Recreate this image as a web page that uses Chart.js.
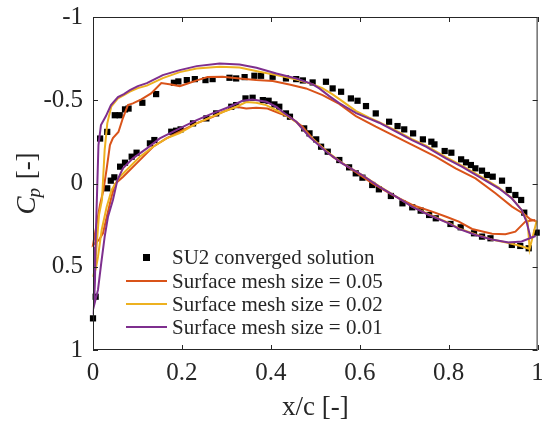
<!DOCTYPE html>
<html>
<head>
<meta charset="utf-8">
<script src="https://cdn.jsdelivr.net/npm/chart.js@4.4.0/dist/chart.umd.min.js"></script>
<style>
  html, body { margin: 0; padding: 0; background: #fff; }
  #wrap { width: 542px; height: 426px; }
</style>
</head>
<body>
<div id="wrap"><canvas id="cpChart"></canvas></div>
<script>
// Solution SU2 convergée (extrados puis intrados)
const su2X = [
  0.000, 0.006, 0.016, 0.032, 0.049, 0.060, 0.072, 0.080, 0.111, 0.142, 0.182, 0.192, 0.211, 0.229,
  0.253, 0.269, 0.307, 0.322, 0.341, 0.363, 0.378, 0.404, 0.434, 0.457, 0.472, 0.494, 0.524, 0.539,
  0.558, 0.580, 0.595, 0.614, 0.636, 0.666, 0.685, 0.700, 0.720, 0.742, 0.761, 0.768, 0.791, 0.806,
  0.828, 0.839, 0.850, 0.860, 0.875, 0.886, 0.899, 0.920, 0.935, 0.950, 0.963, 0.970, 0.998,
  0.032, 0.040, 0.048, 0.061, 0.072, 0.087, 0.098, 0.128, 0.138, 0.176, 0.187, 0.197, 0.225, 0.255,
  0.277, 0.311, 0.322, 0.343, 0.359, 0.382, 0.395, 0.408, 0.419, 0.434, 0.443, 0.475, 0.487, 0.502,
  0.513, 0.528, 0.554, 0.576, 0.591, 0.606, 0.628, 0.643, 0.670, 0.696, 0.718, 0.737, 0.756, 0.771,
  0.804, 0.827, 0.857, 0.875, 0.894, 0.942, 0.961, 0.980
];
const su2Cp = [
  0.810, 0.680, -0.270, -0.310, -0.410, -0.410, -0.445, -0.450, -0.485, -0.537, -0.605, -0.613, -0.621, -0.627,
  -0.621, -0.627, -0.635, -0.631, -0.639, -0.647, -0.647, -0.641, -0.631, -0.627, -0.619, -0.607, -0.611, -0.571,
  -0.551, -0.511, -0.497, -0.465, -0.421, -0.371, -0.345, -0.325, -0.301, -0.265, -0.251, -0.235, -0.195, -0.185,
  -0.145, -0.127, -0.111, -0.091, -0.077, -0.051, -0.041, -0.017, 0.039, 0.069, 0.099, 0.175, 0.295,
  0.029, -0.017, -0.037, -0.101, -0.125, -0.161, -0.185, -0.241, -0.261, -0.311, -0.317, -0.325, -0.361, -0.391,
  -0.421, -0.461, -0.471, -0.511, -0.515, -0.501, -0.497, -0.475, -0.461, -0.421, -0.401, -0.331, -0.301, -0.265,
  -0.221, -0.191, -0.141, -0.097, -0.061, -0.035, 0.009, 0.035, 0.075, 0.119, 0.143, 0.163, 0.189, 0.209,
  0.243, 0.263, 0.299, 0.319, 0.329, 0.369, 0.375, 0.389
];

// Maillage 0.05 : extrados (bord d'attaque -> bord de fuite) et intrados
const m05HautX = [0.000, 0.0067, 0.0157, 0.0235, 0.0303, 0.0381, 0.0448, 0.0572, 0.0673, 0.0785, 0.0897, 0.1087,
  0.1307, 0.1536, 0.1756, 0.1951, 0.2130, 0.2354, 0.2578, 0.2915, 0.3296, 0.3670, 0.4043, 0.4417, 0.4791, 0.5164,
  0.5538, 0.5913, 0.6361, 0.6809, 0.7258, 0.7706, 0.8155, 0.8603, 0.9052, 0.9424, 0.9724, 0.9836, 0.9984];
const m05HautCp = [0.369, 0.267, 0.129, 0.039, -0.081, -0.231, -0.273, -0.309, -0.393, -0.471, -0.481, -0.505,
  -0.541, -0.603, -0.595, -0.585, -0.601, -0.621, -0.639, -0.641, -0.631, -0.621, -0.615, -0.595, -0.571, -0.531,
  -0.478, -0.405, -0.341, -0.281, -0.221, -0.161, -0.091, -0.031, 0.059, 0.139, 0.189, 0.215, 0.229];
const m05BasX = [0.000, 0.0135, 0.0224, 0.0303, 0.0415, 0.0493, 0.0679, 0.0980, 0.1352, 0.1652, 0.1951, 0.2325,
  0.2697, 0.2922, 0.3222, 0.3446, 0.3670, 0.3924, 0.4193, 0.4417, 0.4715, 0.4940, 0.5388, 0.5836, 0.6285, 0.6733,
  0.7181, 0.7630, 0.7960, 0.8229, 0.8527, 0.8975, 0.9276, 0.9500, 0.9724, 0.9948];
const m05BasCp = [0.369, 0.339, 0.299, 0.207, 0.081, 0.003, -0.041, -0.121, -0.221, -0.271, -0.311, -0.361,
  -0.401, -0.431, -0.461, -0.451, -0.455, -0.450, -0.421, -0.401, -0.341, -0.271, -0.161, -0.081, -0.001, 0.069,
  0.129, 0.169, 0.201, 0.229, 0.273, 0.302, 0.305, 0.289, 0.229, 0.219];

// Maillage 0.02
const m02HautX = [0.0007, 0.0045, 0.0135, 0.0202, 0.0262, 0.0321, 0.0410, 0.0561, 0.0695, 0.0830, 0.1009, 0.1211,
  0.1570, 0.1951, 0.2332, 0.2848, 0.3296, 0.3744, 0.4126, 0.4574, 0.4933, 0.5157, 0.5381, 0.5605, 0.5919, 0.6211,
  0.6435, 0.6816, 0.7175, 0.7489, 0.7937, 0.8296, 0.8744, 0.9126, 0.9417, 0.9641, 0.9776, 0.9821, 0.9978];
const m02HautCp = [0.561, 0.499, 0.189, 0.099, -0.201, -0.361, -0.461, -0.511, -0.531, -0.552, -0.573, -0.588,
  -0.633, -0.669, -0.690, -0.701, -0.697, -0.671, -0.651, -0.624, -0.597, -0.573, -0.537, -0.495, -0.435, -0.396,
  -0.369, -0.318, -0.267, -0.228, -0.159, -0.108, -0.039, 0.024, 0.087, 0.159, 0.231, 0.393, 0.225];
const m02BasX = [0.0007, 0.0067, 0.0112, 0.0195, 0.0307, 0.0419, 0.0531, 0.0605, 0.0830, 0.1054, 0.1352, 0.1652,
  0.1951, 0.2332, 0.2848, 0.3222, 0.3446, 0.3670, 0.3895, 0.4119, 0.4305, 0.4574, 0.4865, 0.5247, 0.5605, 0.6054,
  0.6435, 0.6816, 0.7175, 0.7556, 0.8004, 0.8229, 0.8610, 0.8969, 0.9350, 0.9619, 0.9821];
const m02BasCp = [0.561, 0.507, 0.441, 0.279, 0.141, 0.039, -0.011, -0.041, -0.101, -0.161, -0.221, -0.271,
  -0.303, -0.361, -0.421, -0.461, -0.489, -0.485, -0.471, -0.441, -0.417, -0.369, -0.285, -0.195, -0.123, -0.051,
  0.015, 0.078, 0.138, 0.186, 0.237, 0.270, 0.306, 0.336, 0.357, 0.375, 0.393];

// Maillage 0.01
const m01HautX = [0.0022, 0.0045, 0.0056, 0.0078, 0.0123, 0.0179, 0.0291, 0.0404, 0.0561, 0.0695, 0.0830, 0.1009,
  0.1211, 0.1570, 0.1951, 0.2332, 0.2848, 0.3296, 0.3677, 0.4126, 0.4574, 0.4933, 0.5090, 0.5314, 0.5538, 0.5919,
  0.6211, 0.6435, 0.6816, 0.7175, 0.7489, 0.7937, 0.8296, 0.8744, 0.9126, 0.9417, 0.9641, 0.9753, 0.9843];
const m01HautCp = [0.735, 0.579, 0.381, 0.177, -0.231, -0.351, -0.405, -0.471, -0.519, -0.537, -0.561, -0.585,
  -0.603, -0.651, -0.681, -0.705, -0.721, -0.714, -0.695, -0.661, -0.631, -0.597, -0.571, -0.525, -0.483, -0.423,
  -0.390, -0.365, -0.311, -0.261, -0.221, -0.151, -0.101, -0.031, 0.029, 0.089, 0.159, 0.231, 0.327];
const m01BasX = [0.0022, 0.0112, 0.0186, 0.0262, 0.0336, 0.0448, 0.0549, 0.0673, 0.0897, 0.1211, 0.1502, 0.1951,
  0.2332, 0.2691, 0.3072, 0.3363, 0.3587, 0.3901, 0.4126, 0.4260, 0.4574, 0.4865, 0.5247, 0.5605, 0.6054, 0.6435,
  0.6816, 0.7175, 0.7556, 0.8004, 0.8229, 0.8610, 0.8969, 0.9350, 0.9641, 0.9955];
const m01BasCp = [0.735, 0.639, 0.477, 0.321, 0.201, 0.099, -0.021, -0.091, -0.151, -0.211, -0.271, -0.331,
  -0.381, -0.421, -0.461, -0.497, -0.505, -0.491, -0.461, -0.431, -0.371, -0.281, -0.191, -0.121, -0.051, 0.019,
  0.079, 0.139, 0.189, 0.239, 0.273, 0.309, 0.336, 0.354, 0.348, 0.315];

const xTicks = [0, 0.2, 0.4, 0.6, 0.8, 1];
const yTicks = [-1, -0.5, 0, 0.5, 1];

const legendLabels = [
  'SU2 converged solution',
  'Surface mesh size = 0.05',
  'Surface mesh size = 0.02',
  'Surface mesh size = 0.01'
];

const colOrange = '#D95319';
const colJaune = '#EDB120';
const colViolet = '#7E2F8E';
const colAxes = '#262626';
const serif = '"Liberation Serif", "Times New Roman", serif';

// Contour fermé : extrados du bord de fuite vers le bord d'attaque, puis intrados
function contour(hautX, hautCp, basX, basCp) {
  const pts = [];
  for (let i = hautX.length - 1; i >= 0; i--) pts.push({ x: hautX[i], y: hautCp[i] });
  for (let i = 1; i < basX.length; i++) pts.push({ x: basX[i], y: basCp[i] });
  return pts;
}

function courbe(label, pts, color, order) {
  return {
    type: 'line', label, data: pts, borderColor: color, backgroundColor: color,
    borderWidth: 2, pointRadius: 0, tension: 0, fill: false, clip: false, order
  };
}

// Cadre fermé et graduations vers l'intérieur (style MATLAB)
const cadreAxes = {
  id: 'cadreAxes',
  afterDatasetsDraw(chart) {
    const { ctx, chartArea: a, scales: { x, y } } = chart;
    const tl = 5;
    ctx.save();
    ctx.strokeStyle = colAxes;
    ctx.lineWidth = 1;
    ctx.strokeRect(a.left + 0.5, a.top + 0.5, a.right - a.left - 1, a.bottom - a.top - 1);
    ctx.beginPath();
    xTicks.forEach(v => {
      const px = Math.round(x.getPixelForValue(v)) + 0.5;
      ctx.moveTo(px, a.bottom); ctx.lineTo(px, a.bottom - tl);
      ctx.moveTo(px, a.top); ctx.lineTo(px, a.top + tl);
    });
    yTicks.forEach(v => {
      const py = Math.round(y.getPixelForValue(v)) + 0.5;
      ctx.moveTo(a.left, py); ctx.lineTo(a.left + tl, py);
      ctx.moveTo(a.right, py); ctx.lineTo(a.right - tl, py);
    });
    ctx.stroke();
    ctx.restore();
  },
  afterDraw(chart) {
    const { ctx, chartArea: a } = chart;
    ctx.save();
    ctx.fillStyle = colAxes;

    // Titre de l'axe x
    ctx.font = '27px ' + serif;
    ctx.textAlign = 'center';
    ctx.textBaseline = 'middle';
    ctx.fillText('x/c [-]', (a.left + a.right) / 2, 408);

    // Titre de l'axe y : C_p [-], vertical
    ctx.translate(26, (a.top + a.bottom) / 2);
    ctx.rotate(-Math.PI / 2);
    ctx.textAlign = 'left';
    ctx.textBaseline = 'alphabetic';
    const fC = 'italic 27px ' + serif, fP = 'italic 19px ' + serif, fR = '27px ' + serif;
    ctx.font = fC; const wC = ctx.measureText('C').width;
    ctx.font = fP; const wP = ctx.measureText('p').width;
    ctx.font = fR; const wR = ctx.measureText(' [-]').width;
    let cx = -(wC + wP + 1 + wR) / 2;
    const base = 9;
    ctx.font = fC; ctx.fillText('C', cx, base); cx += wC;
    ctx.font = fP; ctx.fillText('p', cx - 1, base + 5); cx += wP + 1;
    ctx.font = fR; ctx.fillText(' [-]', cx, base);
    ctx.restore();

    // Légende dans la zone de tracé
    ctx.save();
    const rows = [257, 281, 304, 327];
    const couleurs = [null, colOrange, colJaune, colViolet];
    ctx.font = '21px ' + serif;
    ctx.textAlign = 'left';
    ctx.textBaseline = 'middle';
    rows.forEach((ry, i) => {
      if (i === 0) {
        ctx.fillStyle = '#000';
        ctx.fillRect(143, ry - 3, 7, 7);
      } else {
        ctx.strokeStyle = couleurs[i];
        ctx.lineWidth = 2;
        ctx.beginPath();
        ctx.moveTo(126, ry); ctx.lineTo(167, ry);
        ctx.stroke();
      }
      ctx.fillStyle = colAxes;
      ctx.fillText(legendLabels[i], 172, ry + 1);
    });
    ctx.restore();
  }
};

new Chart(document.getElementById('cpChart').getContext('2d'), {
  type: 'scatter',
  data: {
    datasets: [
      {
        type: 'scatter', label: legendLabels[0],
        data: su2X.map((v, i) => ({ x: v, y: su2Cp[i] })),
        pointStyle: 'rect', pointRadius: 4.4, pointBorderWidth: 0,
        backgroundColor: '#000', borderColor: '#000', clip: false, order: 4
      },
      courbe(legendLabels[1], contour(m05HautX, m05HautCp, m05BasX, m05BasCp), colOrange, 3),
      courbe(legendLabels[2], contour(m02HautX, m02HautCp, m02BasX, m02BasCp), colJaune, 2),
      courbe(legendLabels[3], contour(m01HautX, m01HautCp, m01BasX, m01BasCp), colViolet, 1)
    ]
  },
  options: {
    responsive: true,
    maintainAspectRatio: false,
    animation: false,
    devicePixelRatio: 1,
    layout: { padding: { top: 17, right: 3, left: 0, bottom: 0 } },
    plugins: { legend: { display: false }, tooltip: { enabled: false } },
    scales: {
      x: {
        type: 'linear', min: 0, max: 1,
        afterFit: (s) => { s.height = 76; s.paddingLeft = 0; s.paddingRight = 0; },
        afterBuildTicks: (s) => { s.ticks = xTicks.map(v => ({ value: v })); },
        grid: { display: false, drawTicks: false },
        border: { display: false },
        ticks: {
          padding: 8, color: colAxes, font: { family: serif, size: 25 }, maxRotation: 0,
          callback: (v) => String(v)
        }
      },
      y: {
        type: 'linear', min: -1, max: 1, reverse: true,
        afterFit: (s) => { s.width = 93; s.paddingTop = 0; s.paddingBottom = 0; },
        afterBuildTicks: (s) => { s.ticks = yTicks.map(v => ({ value: v })); },
        grid: { display: false, drawTicks: false },
        border: { display: false },
        ticks: {
          padding: 10, color: colAxes, font: { family: serif, size: 25 },
          callback: (v) => String(v)
        }
      }
    }
  },
  plugins: [cadreAxes]
});
</script>
</body>
</html>
